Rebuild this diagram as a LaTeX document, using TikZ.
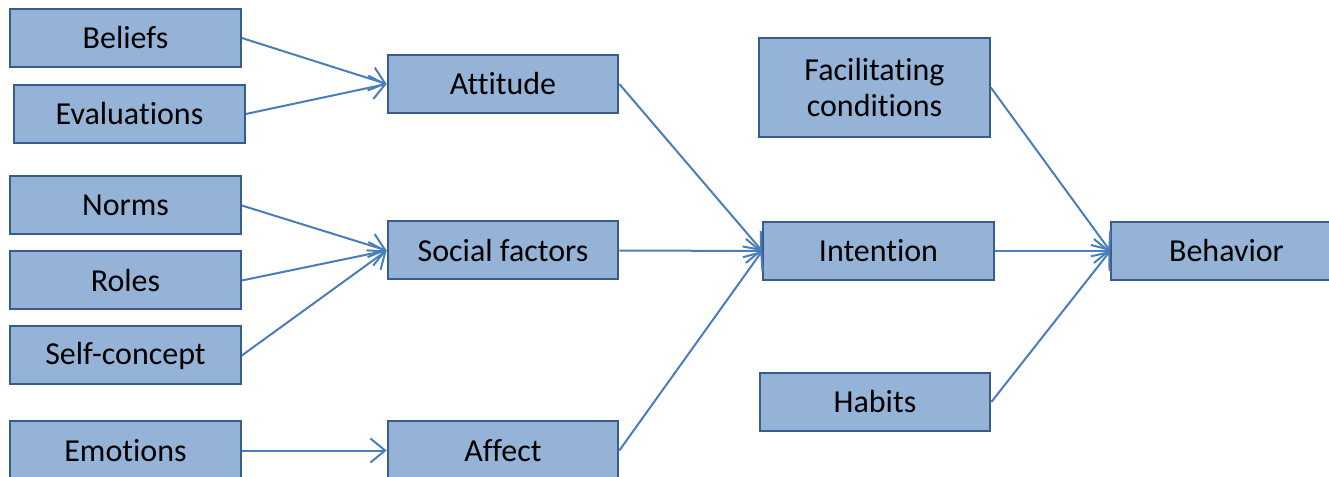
\documentclass[tikz,border=0pt]{standalone}
\usepackage{fontspec}
\setmainfont{Carlito}[Ligatures=NoCommon]
\usetikzlibrary{arrows.meta}

\definecolor{boxfill}{HTML}{95B3D7}
\definecolor{boxline}{HTML}{385D8A}
\definecolor{linkline}{HTML}{4A7EBB}

\begin{document}
\begin{tikzpicture}[x=0.75pt,y=-0.75pt,
  factor/.style={draw=boxline,fill=boxfill,line width=1.5pt,minimum width=173pt,minimum height=43.5pt,inner sep=0pt,align=center,font=\fontsize{24}{27.5}\selectfont},
  link/.style={draw=linkline,line width=1.5pt,-{Straight Barb[length=11pt,width=18pt]}}]
% Page
\clip (0,0) rectangle (1329,477);
% Left column
\node [factor] (beliefs) at (125.5,38) {Beliefs};
\node [factor] (evaluations) at (129.5,114) {Evaluations};
\node [factor] (norms) at (125.5,205.5) {Norms};
\node [factor] (roles) at (125.5,280.5) {Roles};
\node [factor] (selfconcept) at (125.5,355.5) {Self-concept};
\node [factor] (emotions) at (125.5,450.5) {Emotions};
% Middle column
\node [factor] (attitude) at (503,84) {Attitude};
\node [factor] (social) at (503,250.5) {Social factors};
\node [factor] (affect) at (503,450.5) {Affect};
% Right column
\node [factor, minimum height=74pt] (facilitating) at (874.5,87.5) {Facilitating\\conditions};
\node [factor] (intention) at (878.5,251) {Intention};
\node [factor] (habits) at (875,402) {Habits};
\node [factor] (behavior) at (1226.5,251) {Behavior};
% Beliefs, Evaluations --> Attitude
\draw [link] (beliefs.east) -- (attitude.west);
\draw [link] (evaluations.east) -- (attitude.west);
% Norms, Roles, Self-concept --> Social factors
\draw [link] (norms.east) -- (social.west);
\draw [link] (roles.east) -- (social.west);
\draw [link] (selfconcept.east) -- (social.west);
% Emotions --> Affect
\draw [link] (emotions.east) -- (affect.west);
% Attitude, Social factors, Affect --> Intention
\draw [link] (attitude.east) -- (intention.west);
\draw [link] (social.east) -- (intention.west);
\draw [link] (affect.east) -- (intention.west);
% Facilitating conditions, Intention, Habits --> Behavior
\draw [link] (facilitating.east) -- (behavior.west);
\draw [link] (intention.east) -- (behavior.west);
\draw [link] (habits.east) -- (behavior.west);
\end{tikzpicture}
\end{document}
